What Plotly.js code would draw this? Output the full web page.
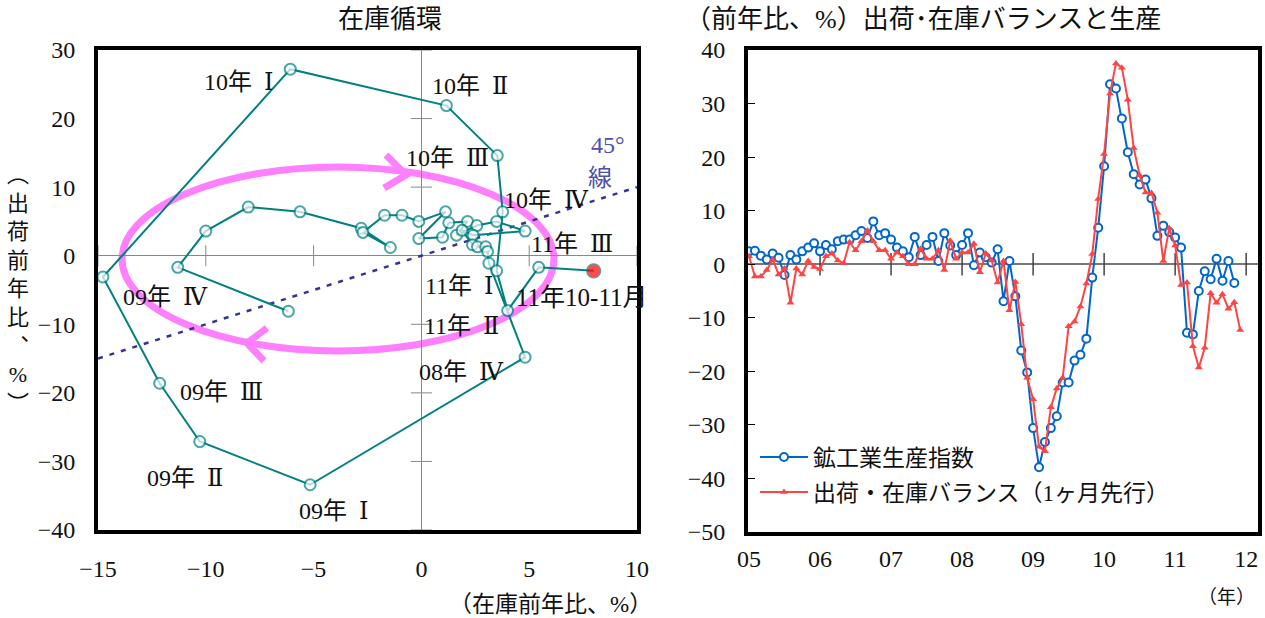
<!DOCTYPE html>
<html><head><meta charset="utf-8">
<script src="https://cdn.plot.ly/plotly-3.0.1.min.js"></script>
<style>html,body{margin:0;padding:0;background:#fff;} #chart{width:1265px;height:618px;}</style>
</head><body><div id="chart"></div>
<script>
// ---------- Left chart: inventory cycle (quarterly, 2002Q1 - 2011Q3) ----------
const quarters = ['02Q1','02Q2','02Q3','02Q4','03Q1','03Q2','03Q3','03Q4','04Q1','04Q2','04Q3','04Q4',
  '05Q1','05Q2','05Q3','05Q4','06Q1','06Q2','06Q3','06Q4','07Q1','07Q2','07Q3','07Q4',
  '08Q1','08Q2','08Q3','08Q4','09Q1','09Q2','09Q3','09Q4','10Q1','10Q2','10Q3','10Q4',
  '11Q1','11Q2','11Q3'];
const inventoryYoY = [-6.17,-11.3,-10.0,-8.03,-5.63,-2.79,-1.44,-2.71,-1.71,-0.90,-0.12,1.12,
  -0.12,0.98,1.27,2.14,1.63,2.57,3.49,4.81,2.40,1.89,2.37,2.60,
  2.98,3.07,3.13,4.81,-5.16,-10.28,-12.14,-14.77,-6.08,1.16,3.52,3.77,
  3.49,4.00,5.44];
const shipmentYoY = [-8.1,-1.7,3.6,7.1,6.4,4.0,1.2,3.4,5.9,5.9,5.0,6.4,
  2.5,2.7,4.8,5.0,3.0,4.4,5.0,3.6,3.0,3.7,1.6,1.3,
  1.3,0.6,-1.1,-14.8,-33.4,-27.1,-18.6,-3.1,27.2,21.9,14.6,6.4,
  -2.2,-8.0,-1.7];
const latestLabel = '11年10-11月';
const latestInventory = 7.99;
const latestShipment = -2.2;
const leftXTicks = [-15,-10,-5,0,5,10];
const leftYTicks = [-40,-30,-20,-10,0,10,20,30];

// ---------- Right chart: monthly, Jan 2005 onward ----------
const yearLabels = ['05','06','07','08','09','10','11','12'];
const productionIndex = [2.4,2.5,1.6,0.9,2.0,1.2,-2.0,1.7,0.9,2.4,3.1,3.9,
  2.4,3.6,2.8,4.3,4.6,4.6,5.4,6.2,4.9,8.0,5.4,5.8,
  4.6,3.1,2.4,1.3,5.1,1.7,3.6,5.1,0.6,5.8,3.5,1.7,
  3.6,5.8,-0.2,2.2,1.3,0.3,2.8,-6.9,0.6,-6.0,-16.1,-20.2,
  -30.6,-37.9,-33.2,-30.6,-28.4,-22.1,-22.1,-18.0,-16.9,-13.9,-2.5,6.8,
  18.3,33.6,32.8,27.2,20.9,16.8,14.9,15.8,12.3,5.3,7.2,6.0,
  5.0,3.1,-12.8,-13.1,-5.0,-1.3,-2.8,1.0,-3.1,0.6,-3.5];
const shipInvBalance = [1.5,-2.3,-2.3,-1.1,0.9,-1.9,-0.8,-7.2,-0.8,-1.9,0.6,-0.5,
  -0.9,1.5,2.0,0.7,0.2,4.1,2.6,4.3,6.3,4.3,2.6,2.6,
  1.0,2.2,1.5,0.0,0.0,2.9,1.0,1.0,2.6,-1.1,4.4,1.0,
  2.2,2.2,3.8,-1.5,2.0,0.7,-3.4,0.6,-8.6,-3.3,-11.2,-21.2,
  -25.2,-34.1,-34.9,-26.7,-23.2,-21.2,-11.6,-10.7,-7.9,-3.6,1.9,12.2,
  20.6,31.9,37.5,36.7,30.7,21.7,16.6,13.4,13.3,9.6,0.6,6.7,
  3.5,-3.9,-3.4,-15.3,-19.3,-15.6,-5.4,-7.2,-5.6,-8.3,-7.1,-12.3];
const rightYTicks = [-50,-40,-30,-20,-10,0,10,20,30,40];
const seriesNames = ['鉱工業生産指数','出荷・在庫バランス（1ヶ月先行）'];

// ---------- helpers ----------
const W = 1265, H = 618;
const px = v => v / W;
const py = v => 1 - v / H;
const SERIF = "'Liberation Serif','DejaVu Serif','Noto Sans CJK JP',serif";
const TEAL = '#008080';

const monthsIdx = arr => arr.map((_, i) => i);
const yearTickVals = yearLabels.map((_, i) => i * 12);

const cycX = inventoryYoY.concat([latestInventory]);
const cycY = shipmentYoY.concat([latestShipment]);
const nC = cycX.length;

const leftTickX = leftXTicks.filter(v => v !== 0);
const leftTickY = leftYTicks.filter(v => v !== 0);

const traces = [
  {
    x: leftTickX.concat(leftTickY.map(() => 0)),
    y: leftTickX.map(() => 0).concat(leftTickY),
    mode: 'markers', xaxis: 'x', yaxis: 'y', showlegend: false, hoverinfo: 'skip',
    marker: { symbol: leftTickX.map(() => 'line-ns').concat(leftTickY.map(() => 'line-ew')),
      size: 15, color: '#888', line: { color: '#888', width: 1 } }
  },
  {
    x: cycX, y: cycY, mode: 'lines+markers', xaxis: 'x', yaxis: 'y', showlegend: false,
    line: { color: TEAL, width: 2 },
    marker: { symbol: 'circle', size: cycX.map((_, i) => i === nC - 1 ? 14 : 11),
      color: cycX.map((_, i) => i === nC - 1 ? '#ff0000' : '#ffffff'),
      line: { color: TEAL, width: cycX.map((_, i) => i === nC - 1 ? 1.2 : 2) } }
  },
  {
    x: yearTickVals.slice(1), y: yearTickVals.slice(1).map(() => 0),
    mode: 'markers', xaxis: 'x2', yaxis: 'y2', showlegend: false, hoverinfo: 'skip',
    marker: { symbol: 'line-ns', size: 16, color: '#444', line: { color: '#444', width: 1.5 } }
  },
  {
    x: monthsIdx(productionIndex), y: productionIndex, name: seriesNames[0],
    mode: 'lines+markers', xaxis: 'x2', yaxis: 'y2', legend: 'legend',
    line: { color: '#0066cc', width: 2 },
    marker: { symbol: 'circle', size: 8, color: '#ffffff', line: { color: '#0066cc', width: 2 } }
  },
  {
    x: monthsIdx(shipInvBalance), y: shipInvBalance, name: seriesNames[1],
    mode: 'lines+markers', xaxis: 'x2', yaxis: 'y2', legend: 'legend2',
    line: { color: '#ff4444', width: 2 },
    marker: { symbol: 'triangle-up', size: 7, color: '#ff4444', line: { color: '#ff4444', width: 0 } }
  }
];

const TXT = '#111';
const ann = (text, x, y, size, extra) => Object.assign({ text, x: px(x), y: py(y), xref: 'paper', yref: 'paper',
  showarrow: false, xanchor: 'center', yanchor: 'middle', font: { family: SERIF, size: size, color: TXT } }, extra || {});
const Q = (yy, r) => yy + '年\u2002' + r;

const annotations = [
  ann('在庫循環', 390, 19, 26),
  ann('（前年比、%）出荷･在庫バランスと生産', 683, 19, 26, { xanchor: 'left' }),
  ann('︵<br>出<br>荷<br>前<br>年<br>比<br>︑<br>%<br>︶', 18, 289, 22),
  ann('（在庫前年比、%）', 550, 604, 23),
  ann('（年）', 1226, 597, 19),
  ann(Q('10', 'Ⅰ'), 238, 82, 24), ann(Q('10', 'Ⅱ'), 470, 86, 24), ann(Q('10', 'Ⅲ'), 447, 158, 24),
  ann(Q('10', 'Ⅳ'), 546, 200, 24), ann(Q('11', 'Ⅲ'), 572, 244, 24), ann(Q('11', 'Ⅰ'), 459, 286, 24),
  ann(latestLabel, 581, 297, 25), ann(Q('11', 'Ⅱ'), 461, 326, 24), ann(Q('08', 'Ⅳ'), 461, 372, 24),
  ann(Q('09', 'Ⅳ'), 165, 297, 24), ann(Q('09', 'Ⅲ'), 221, 392, 24), ann(Q('09', 'Ⅱ'), 185, 478, 24),
  ann(Q('09', 'Ⅰ'), 333, 511, 24),
  ann('45°', 608, 145, 24, { font: { family: SERIF, size: 24, color: '#5050a8' } }),
  ann('線', 600, 178, 24, { font: { family: SERIF, size: 24, color: '#5050a8' } })
];

const PINK = '#ff80ff';
const pathP = pts => pts.map((p, i) => (i ? 'L' : 'M') + px(p[0]) + ',' + py(p[1])).join(' ');
const shapes = [
  { type: 'line', xref: 'x', yref: 'y', x0: -15, y0: -15, x1: 10, y1: 10, layer: 'between',
    line: { color: '#333399', width: 2.5, dash: '5px,7px' } },
  { type: 'circle', xref: 'paper', yref: 'paper', x0: px(122), x1: px(554), y0: py(351), y1: py(167),
    line: { color: PINK, width: 7 }, layer: 'between' },
  { type: 'path', xref: 'paper', yref: 'paper', path: pathP([[386, 155], [406, 175], [384, 188]]),
    line: { color: PINK, width: 7 }, layer: 'between' },
  { type: 'path', xref: 'paper', yref: 'paper', path: pathP([[267, 328], [247, 343], [264, 361]]),
    line: { color: PINK, width: 7 }, layer: 'between' }
];

const tickFont = { family: SERIF, size: 24, color: TXT };
const frame = { showline: true, mirror: true, linecolor: '#000', linewidth: 4, showgrid: false };

const layout = {
  width: W, height: H, margin: { l: 0, r: 0, t: 0, b: 0 },
  paper_bgcolor: '#fff', plot_bgcolor: '#fff',
  font: { family: SERIF, size: 20, color: TXT },
  showlegend: true,
  xaxis: Object.assign({}, frame, { domain: [px(98), px(637)], range: [-15, 10], tickvals: leftXTicks,
    zeroline: true, zerolinecolor: '#888', zerolinewidth: 1, ticks: '', tickfont: tickFont,
    ticklabelstandoff: 14, anchor: 'y', fixedrange: true }),
  yaxis: Object.assign({}, frame, { domain: [1 - 530 / H, 1 - 50 / H], range: [-40, 30], tickvals: leftYTicks,
    zeroline: true, zerolinecolor: '#888', zerolinewidth: 1, ticks: '', tickfont: tickFont,
    ticklabelstandoff: 14, anchor: 'x', fixedrange: true }),
  xaxis2: Object.assign({}, frame, { domain: [px(748), px(1258)], range: [-0.17, 86], tickvals: yearTickVals,
    ticktext: yearLabels, zeroline: false, ticks: '', tickfont: tickFont, ticklabelstandoff: 2,
    anchor: 'y2', fixedrange: true }),
  yaxis2: Object.assign({}, frame, { domain: [1 - 532 / H, 1 - 50 / H], range: [-50, 40], tickvals: rightYTicks,
    zeroline: true, zerolinecolor: '#777', zerolinewidth: 1.5, ticks: 'inside', ticklen: 7, tickcolor: '#000',
    tickwidth: 1, tickfont: tickFont, ticklabelstandoff: 14, anchor: 'x2', fixedrange: true }),
  legend: { x: px(755), y: py(457), xanchor: 'left', yanchor: 'middle', bgcolor: 'rgba(0,0,0,0)',
    borderwidth: 0, itemwidth: 48, font: { family: SERIF, size: 23, color: TXT } },
  legend2: { x: px(755), y: py(492), xanchor: 'left', yanchor: 'middle', bgcolor: 'rgba(0,0,0,0)',
    borderwidth: 0, itemwidth: 48, font: { family: SERIF, size: 23, color: TXT } },
  annotations: annotations,
  shapes: shapes
};

Plotly.newPlot('chart', traces, layout, { staticPlot: true, displayModeBar: false });
</script>
</body></html>
